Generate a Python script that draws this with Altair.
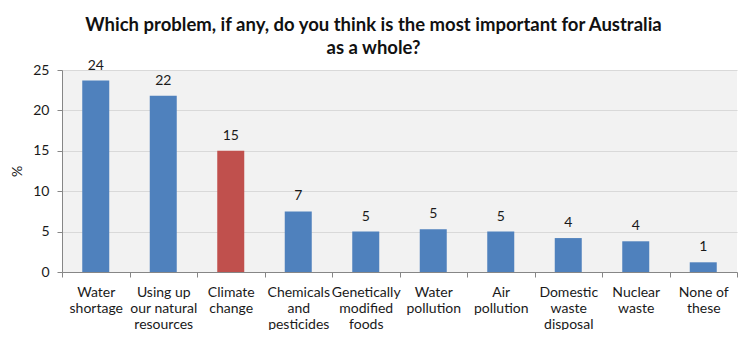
import altair as alt
import pandas as pd

categories = [
    "Water\nshortage",
    "Using up\nour natural\nresources",
    "Climate\nchange",
    "Chemicals\nand\npesticides",
    "Genetically\nmodified\nfoods",
    "Water\npollution",
    "Air\npollution",
    "Domestic\nwaste\ndisposal",
    "Nuclear\nwaste",
    "None of\nthese",
]
values = [23.7, 21.8, 15.0, 7.5, 5.0, 5.3, 5.0, 4.2, 3.8, 1.2]
labels = ["24", "22", "15", "7", "5", "5", "5", "4", "4", "1"]
highlight = [False, False, True, False, False, False, False, False, False, False]

df = pd.DataFrame({"cat": categories, "value": values, "label": labels, "hl": highlight})

FONT = "Lato"
yscale = alt.Scale(domain=[0, 25], nice=False)

x = alt.X(
    "cat:N",
    sort=categories,
    scale=alt.Scale(paddingInner=0, paddingOuter=0),
    axis=alt.Axis(
        title=None,
        labelAngle=0,
        labelExpr="split(datum.label, '\\n')",
        labelFontSize=14,
        labelColor="#1a1a1a",
        labelFont=FONT,
        labelLineHeight=16,
        labelPadding=8,
        tickBand="extent",
        tickSize=5,
        tickColor="#868686",
        domainColor="#868686",
        labelBaseline="top",
    ),
)

bars = alt.Chart(df).mark_bar(width=alt.RelativeBandSize(0.4)).encode(
    x=x,
    y=alt.Y(
        "value:Q",
        scale=yscale,
        axis=alt.Axis(
            title="%",
            titleFontSize=14,
            titleFont=FONT,
            titleFontWeight="normal",
            titleColor="#1a1a1a",
            titlePadding=8,
            values=[0, 5, 10, 15, 20, 25],
            labelFontSize=14,
            labelFont=FONT,
            labelColor="#1a1a1a",
            labelPadding=8,
            tickSize=5,
            tickColor="#868686",
            domainColor="#868686",
            gridColor="#d9d9d9",
        ),
    ),
    color=alt.Color(
        "hl:N",
        scale=alt.Scale(domain=[False, True], range=["#4f81bd", "#c0504d"]),
        legend=None,
    ),
)

text = alt.Chart(df).mark_text(
    dy=-8, baseline="bottom", fontSize=14, font=FONT, color="#1a1a1a"
).encode(
    x=alt.X("cat:N", sort=categories),
    y=alt.Y("value:Q", scale=yscale),
    text="label:N",
)

chart = (
    alt.layer(bars, text)
    .properties(
        width=675,
        height=202,
        autosize=alt.AutoSizeParams(type="none"),
        padding={"left": 62, "top": 70, "right": 17, "bottom": 58},
        background="white",
        title=alt.TitleParams(
            text=[
                "Which problem, if any, do you think is the most important for Australia",
                "as a whole?",
            ],
            fontSize=18.5,
            font=FONT,
            fontWeight="bold",
            color="#111111",
            anchor="middle",
            dx=-26,
            dy=5,
            lineHeight=23,
            offset=6,
        ),
    )
    .configure_view(fill="#f2f2f2", stroke=None)
)

chart.save("out.html", embed_options={"renderer": "svg", "actions": False})
